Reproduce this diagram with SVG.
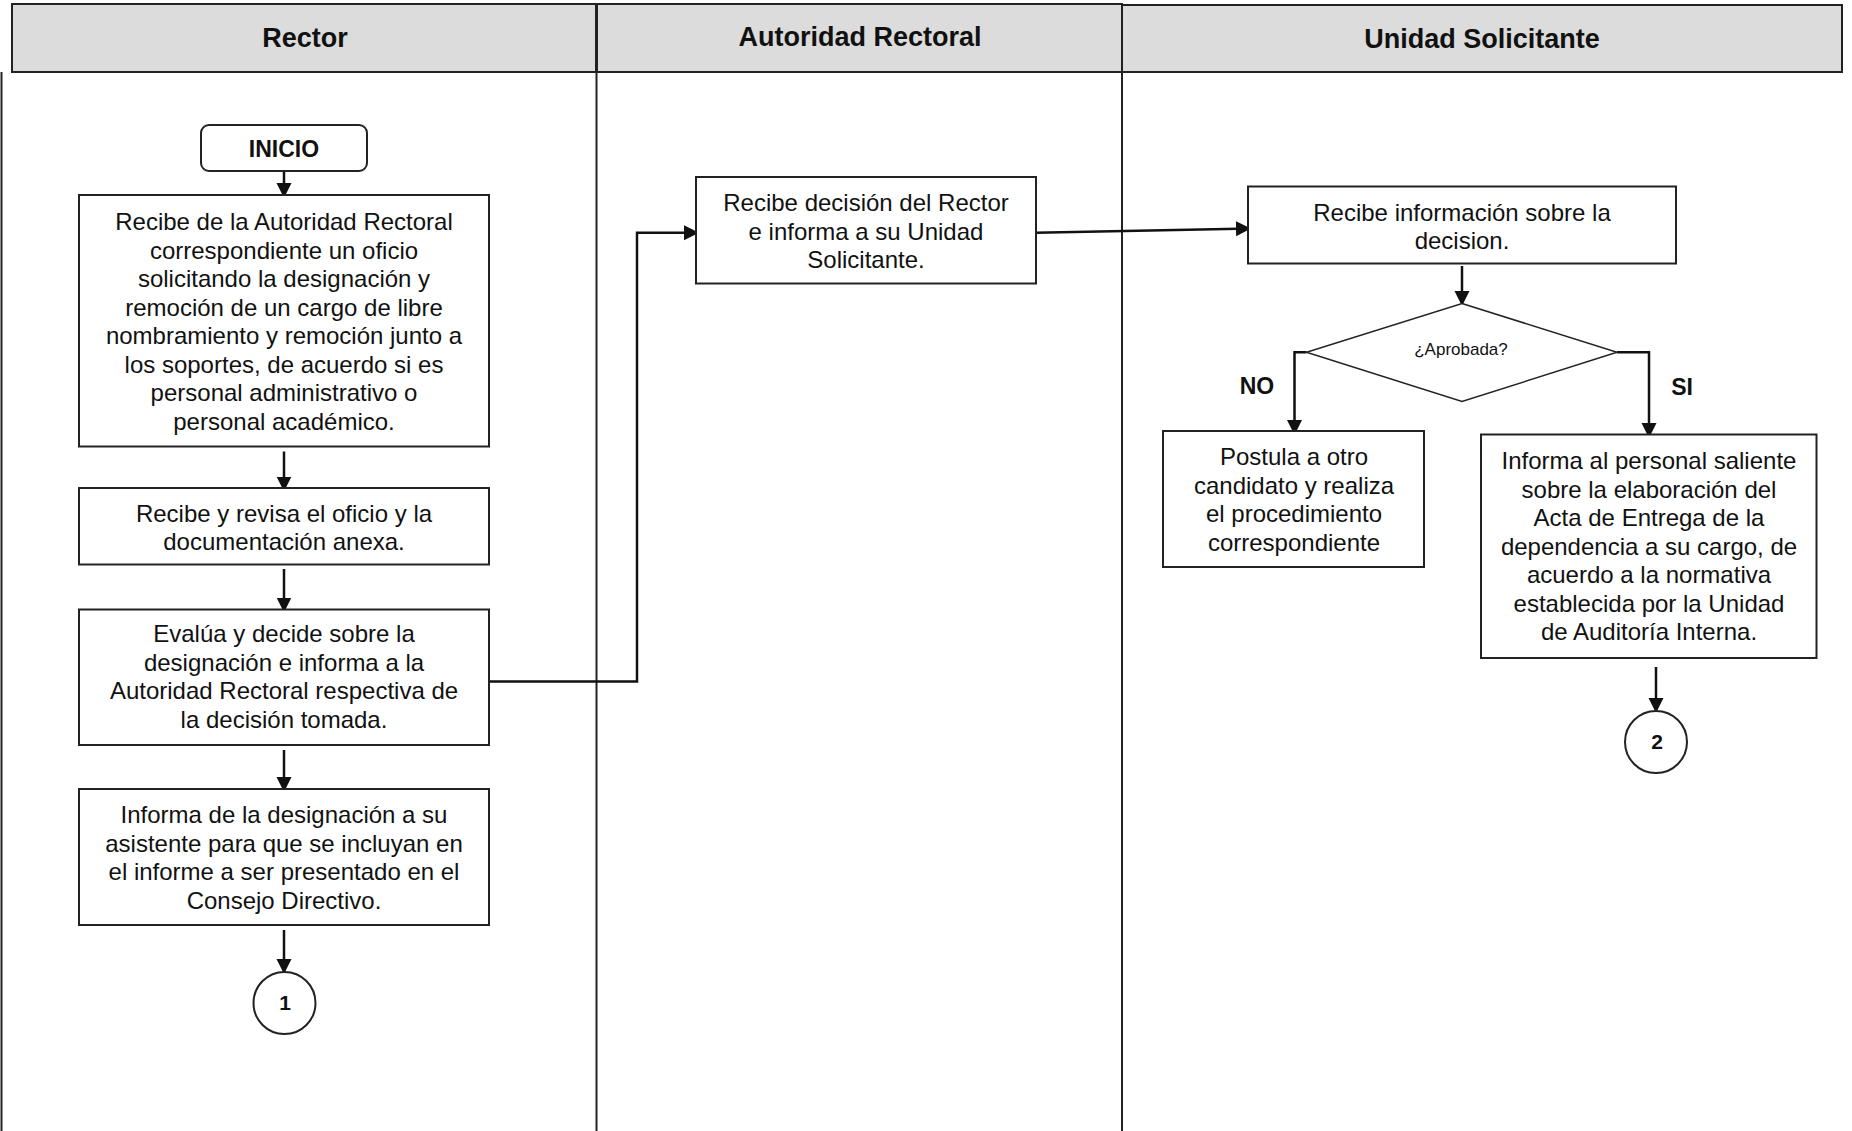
<svg xmlns="http://www.w3.org/2000/svg" width="1852" height="1131" viewBox="0 0 1852 1131">
<style>
.hdr{fill:#dcdcdc;stroke:#222;stroke-width:2}
.ht{font-family:"Liberation Sans",Arial,sans-serif;font-weight:bold;font-size:27px;fill:#111;text-anchor:middle}
.lane{stroke:#222;stroke-width:2;fill:none}
.box{fill:#fff;stroke:#222;stroke-width:2}
.t{font-family:"Liberation Sans",Arial,sans-serif;font-size:24px;fill:#111;text-anchor:middle}
.b{font-family:"Liberation Sans",Arial,sans-serif;font-weight:bold;font-size:23px;fill:#111;text-anchor:middle}
.s{font-family:"Liberation Sans",Arial,sans-serif;font-size:17px;fill:#111;text-anchor:middle}
.c{fill:none;stroke:#111;stroke-width:2.5}
</style>
<defs>
<marker id="ah" markerUnits="userSpaceOnUse" markerWidth="16" markerHeight="16" refX="15" refY="8" orient="auto" viewBox="0 0 16 16">
<path d="M0,0.5 L15,8 L0,15.5 z" fill="#111"/>
</marker>
</defs>
<rect width="1852" height="1131" fill="#fff"/>
<g id="lanes">
<rect class="hdr" x="12" y="4" width="584" height="68"/>
<rect class="hdr" x="597" y="4" width="525" height="68"/>
<rect class="hdr" x="1122" y="5" width="720" height="67"/>
<line class="lane" x1="1.5" y1="72" x2="1.5" y2="1131"/>
<line class="lane" x1="596.5" y1="72" x2="596.5" y2="1131"/>
<line class="lane" x1="1122" y1="72" x2="1122" y2="1131"/>
<text class="ht" x="305" y="47">Rector</text>
<text class="ht" x="860" y="46">Autoridad Rectoral</text>
<text class="ht" x="1482" y="48">Unidad Solicitante</text>
</g>
<g id="connectors">
<line class="c" x1="284" y1="171" x2="284" y2="198" marker-end="url(#ah)"/>
<line class="c" x1="284" y1="451.5" x2="284" y2="491.5" marker-end="url(#ah)"/>
<line class="c" x1="284" y1="569" x2="284" y2="612.5" marker-end="url(#ah)"/>
<line class="c" x1="284" y1="750" x2="284" y2="792" marker-end="url(#ah)"/>
<line class="c" x1="284" y1="930" x2="284" y2="974" marker-end="url(#ah)"/>
<polyline class="c" points="489,681.5 637,681.5 637,232.7 699,232.7" marker-end="url(#ah)"/>
<line class="c" x1="1036" y1="232.7" x2="1251" y2="228.5" marker-end="url(#ah)"/>
<line class="c" x1="1462" y1="266" x2="1462" y2="306" marker-end="url(#ah)"/>
<polyline class="c" points="1306.5,352.3 1294.5,352.3 1294.5,435" marker-end="url(#ah)"/>
<polyline class="c" points="1617,352.3 1649,352.3 1649,438" marker-end="url(#ah)"/>
<line class="c" x1="1656" y1="667" x2="1656" y2="713" marker-end="url(#ah)"/>
<text class="b" x="1257" y="394">NO</text>
<text class="b" x="1682" y="395">SI</text>
</g>
<g id="inicio">
<rect class="box" x="201" y="125" width="166" height="46" rx="8"/>
<text class="b" x="284" y="157">INICIO</text>
</g>
<g id="r1">
<rect class="box" x="79" y="195" width="410" height="251.5"/>
<text class="t" x="284" y="230">Recibe de la Autoridad Rectoral</text>
<text class="t" x="284" y="258.5">correspondiente un oficio</text>
<text class="t" x="284" y="287">solicitando la designación y</text>
<text class="t" x="284" y="315.5">remoción de un cargo de libre</text>
<text class="t" x="284" y="344">nombramiento y remoción junto a</text>
<text class="t" x="284" y="372.5">los soportes, de acuerdo si es</text>
<text class="t" x="284" y="401">personal administrativo o</text>
<text class="t" x="284" y="429.5">personal académico.</text>
</g>
<g id="r2">
<rect class="box" x="79" y="488" width="410" height="76.5"/>
<text class="t" x="284" y="522">Recibe y revisa el oficio y la</text>
<text class="t" x="284" y="550">documentación anexa.</text>
</g>
<g id="r3">
<rect class="box" x="79" y="609.5" width="410" height="135.5"/>
<text class="t" x="284" y="642">Evalúa y decide sobre la</text>
<text class="t" x="284" y="670.5">designación e informa a la</text>
<text class="t" x="284" y="699">Autoridad Rectoral respectiva de</text>
<text class="t" x="284" y="727.5">la decisión tomada.</text>
</g>
<g id="r4">
<rect class="box" x="79" y="789" width="410" height="136"/>
<text class="t" x="284" y="823">Informa de la designación a su</text>
<text class="t" x="284" y="851.5">asistente para que se incluyan en</text>
<text class="t" x="284" y="880">el informe a ser presentado en el</text>
<text class="t" x="284" y="908.5">Consejo Directivo.</text>
</g>
<g id="c1">
<circle class="box" cx="284.5" cy="1003" r="31"/>
<text class="b" x="285" y="1010" style="font-size:21px">1</text>
</g>
<g id="a1">
<rect class="box" x="696" y="177" width="340" height="106.5"/>
<text class="t" x="866" y="211">Recibe decisión del Rector</text>
<text class="t" x="866" y="239.5">e informa a su Unidad</text>
<text class="t" x="866" y="268">Solicitante.</text>
</g>
<g id="u1">
<rect class="box" x="1248" y="186.5" width="428" height="77"/>
<text class="t" x="1462" y="221">Recibe información sobre la</text>
<text class="t" x="1462" y="249">decision.</text>
</g>
<g id="dec">
<polygon points="1462,303.5 1617,352.3 1462,401.5 1306.5,352.3" fill="#fff" stroke="#222" stroke-width="1.5"/>
<text class="s" x="1461" y="355">¿Aprobada?</text>
</g>
<g id="u2">
<rect class="box" x="1163" y="431" width="261" height="136"/>
<text class="t" x="1294" y="465">Postula a otro</text>
<text class="t" x="1294" y="493.5">candidato y realiza</text>
<text class="t" x="1294" y="522">el procedimiento</text>
<text class="t" x="1294" y="550.5">correspondiente</text>
</g>
<g id="u3">
<rect class="box" x="1481" y="434.5" width="335.5" height="223.5"/>
<text class="t" x="1649" y="469">Informa al personal saliente</text>
<text class="t" x="1649" y="497.5">sobre la elaboración del</text>
<text class="t" x="1649" y="526">Acta de Entrega de la</text>
<text class="t" x="1649" y="554.5">dependencia a su cargo, de</text>
<text class="t" x="1649" y="583">acuerdo a la normativa</text>
<text class="t" x="1649" y="611.5">establecida por la Unidad</text>
<text class="t" x="1649" y="640">de Auditoría Interna.</text>
</g>
<g id="c2">
<circle class="box" cx="1656" cy="742" r="31"/>
<text class="b" x="1657" y="749" style="font-size:21px">2</text>
</g>
</svg>
